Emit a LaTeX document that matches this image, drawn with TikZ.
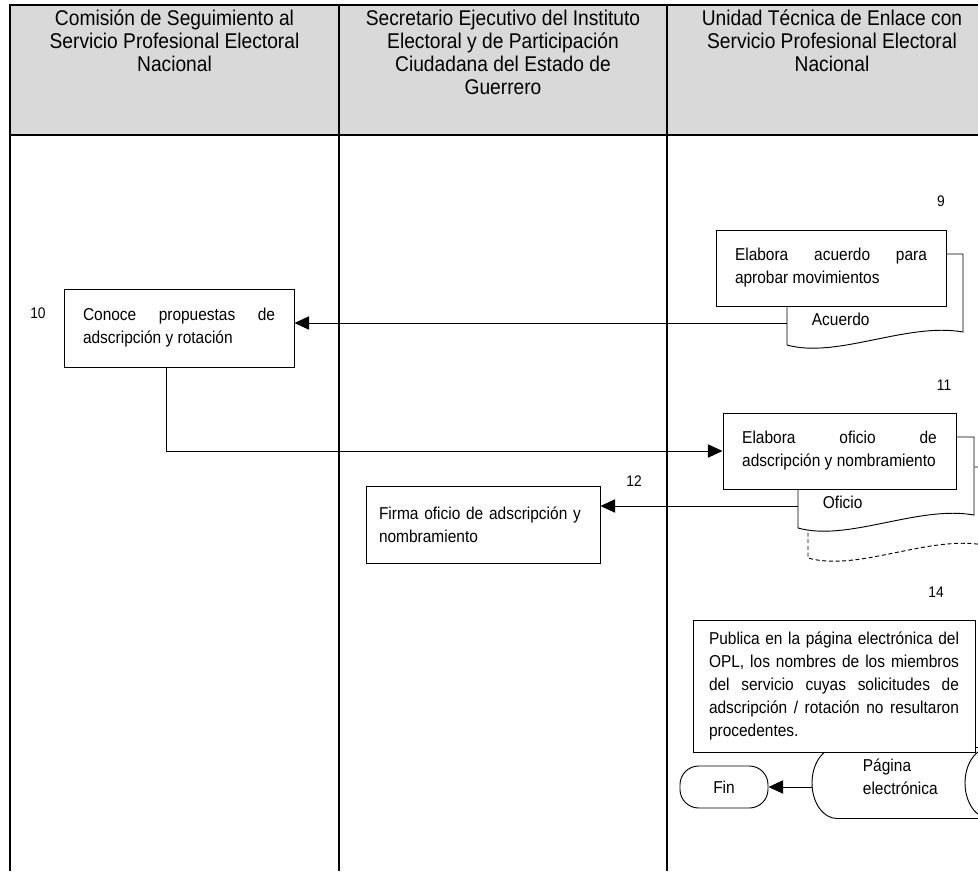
\documentclass[tikz,border=0pt]{standalone}
\usepackage{fontspec}
\setmainfont{Liberation Sans}[FakeStretch=0.9]
\usepackage{xcolor}
\usepackage{tikz}
\usetikzlibrary{arrows.meta}
\definecolor{laneHead}{HTML}{D9D9D9}
\tolerance=10000
\hbadness=10000
\newcommand\headfont{\fontsize{16}{17.25}\selectfont}
\newcommand\boxfont{\fontsize{12.9}{17.25}\selectfont}
\newcommand\numfont{\fontsize{11.5}{13}\selectfont}

\begin{document}
\begin{tikzpicture}[
  x=0.75pt,y=-0.75pt,line width=0.7pt,
  lane/.style={line width=2pt},
  head/.style={font=\headfont,align=center,anchor=north,inner sep=2pt},
  proc/.style={draw,fill=white,font=\boxfont,align=justify,text width=144pt,
               inner xsep=14.25pt,minimum height=57pt},
  num/.style={font=\numfont},
  arr/.style={-{Triangle[length=11pt,width=10pt]}},
  docpage/.pic={
    \draw[fill=white] (0,0) -- (176,0) -- (176,78)
      .. controls (120,68) and (50,105) .. (0,91) -- cycle;
    \node[font=\boxfont,anchor=west] at (20,65) {#1};
    \coordinate (-w) at (0,69);
  }
]
\useasboundingbox (0,0) rectangle (978,871);
% swimlanes
\fill[laneHead] (10,5) rectangle (997,135);
\draw[lane] (997,5) -- (10,5) -- (10,871);
\draw[lane] (10,135) -- (997,135);
\draw[lane] (339,5) -- (339,871);
\draw[lane] (667,5) -- (667,871);
\node[head] (h1) at (174.5,7) {Comisión de Seguimiento al\\Servicio Profesional Electoral\\Nacional};
\node[head] (h2) at (503,7) {Secretario Ejecutivo del Instituto\\Electoral y de Participación\\Ciudadana del Estado de\\Guerrero};
\node[head] (h3) at (832,7) {Unidad Técnica de Enlace con\\Servicio Profesional Electoral\\Nacional};

% 9
\pic (d9) at (787,254) {docpage=Acuerdo};
\node[proc] (b9) at (831,268) {Elabora acuerdo para\linebreak aprobar movimientos};
\node[num] at (941,201) {9};

% 10
\node[proc,minimum height=58.5pt] (b10) at (179,328) {Conoce propuestas de\linebreak adscripción y rotación};
\node[num] at (38,313) {10};

% 11
\pic[densely dashed] (d11x) at (808,467) {docpage={}};
\pic (d11) at (798,437) {docpage=Oficio};
\node[proc,text width=146pt,inner xsep=14.4pt] (b11) at (839.5,451) {Elabora oficio de\linebreak adscripción y nombramiento};
\node[num] at (944,385) {11};

% 12
\node[proc,align=left,text width=156pt,inner xsep=9.75pt,minimum height=57.75pt] (b12) at (483,524.5) {Firma oficio de adscripción y\\nombramiento};
\node[num] at (634,481) {12};

% 14
\draw (837,747.5) -- (990,747.5);
\draw (837,747.5) arc[start angle=270,end angle=90,x radius=25,y radius=35.5] -- (990,818.5);
\draw (990,783) ellipse[x radius=25,y radius=35.5];
\node[font=\boxfont,align=left,anchor=west] (pag) at (858,777) {Página\\electrónica};
\coordinate (pagw) at (812,787);
\node[proc,text width=187.5pt,inner xsep=12pt,minimum height=99pt] (b14) at (834,686) {Publica en la página electrónica del\linebreak OPL, los nombres de los miembros\linebreak del servicio cuyas solicitudes de\linebreak adscripción / rotación no resultaron\linebreak procedentes.};
\node[num] at (936,592) {14};
\node[draw,rounded corners=14pt,minimum width=66pt,minimum height=31.5pt,font=\boxfont] (fin) at (724,787) {Fin};

% connectors
\draw[arr] (d9-w) -- (d9-w -| b10.east);
\draw[arr] ([xshift=-9.75pt]b10.south) |- (b11.west);
\draw[arr] (d11-w) -- (d11-w -| b12.east);
\draw[arr] (pagw) -- (fin.east);
\end{tikzpicture}
\end{document}
